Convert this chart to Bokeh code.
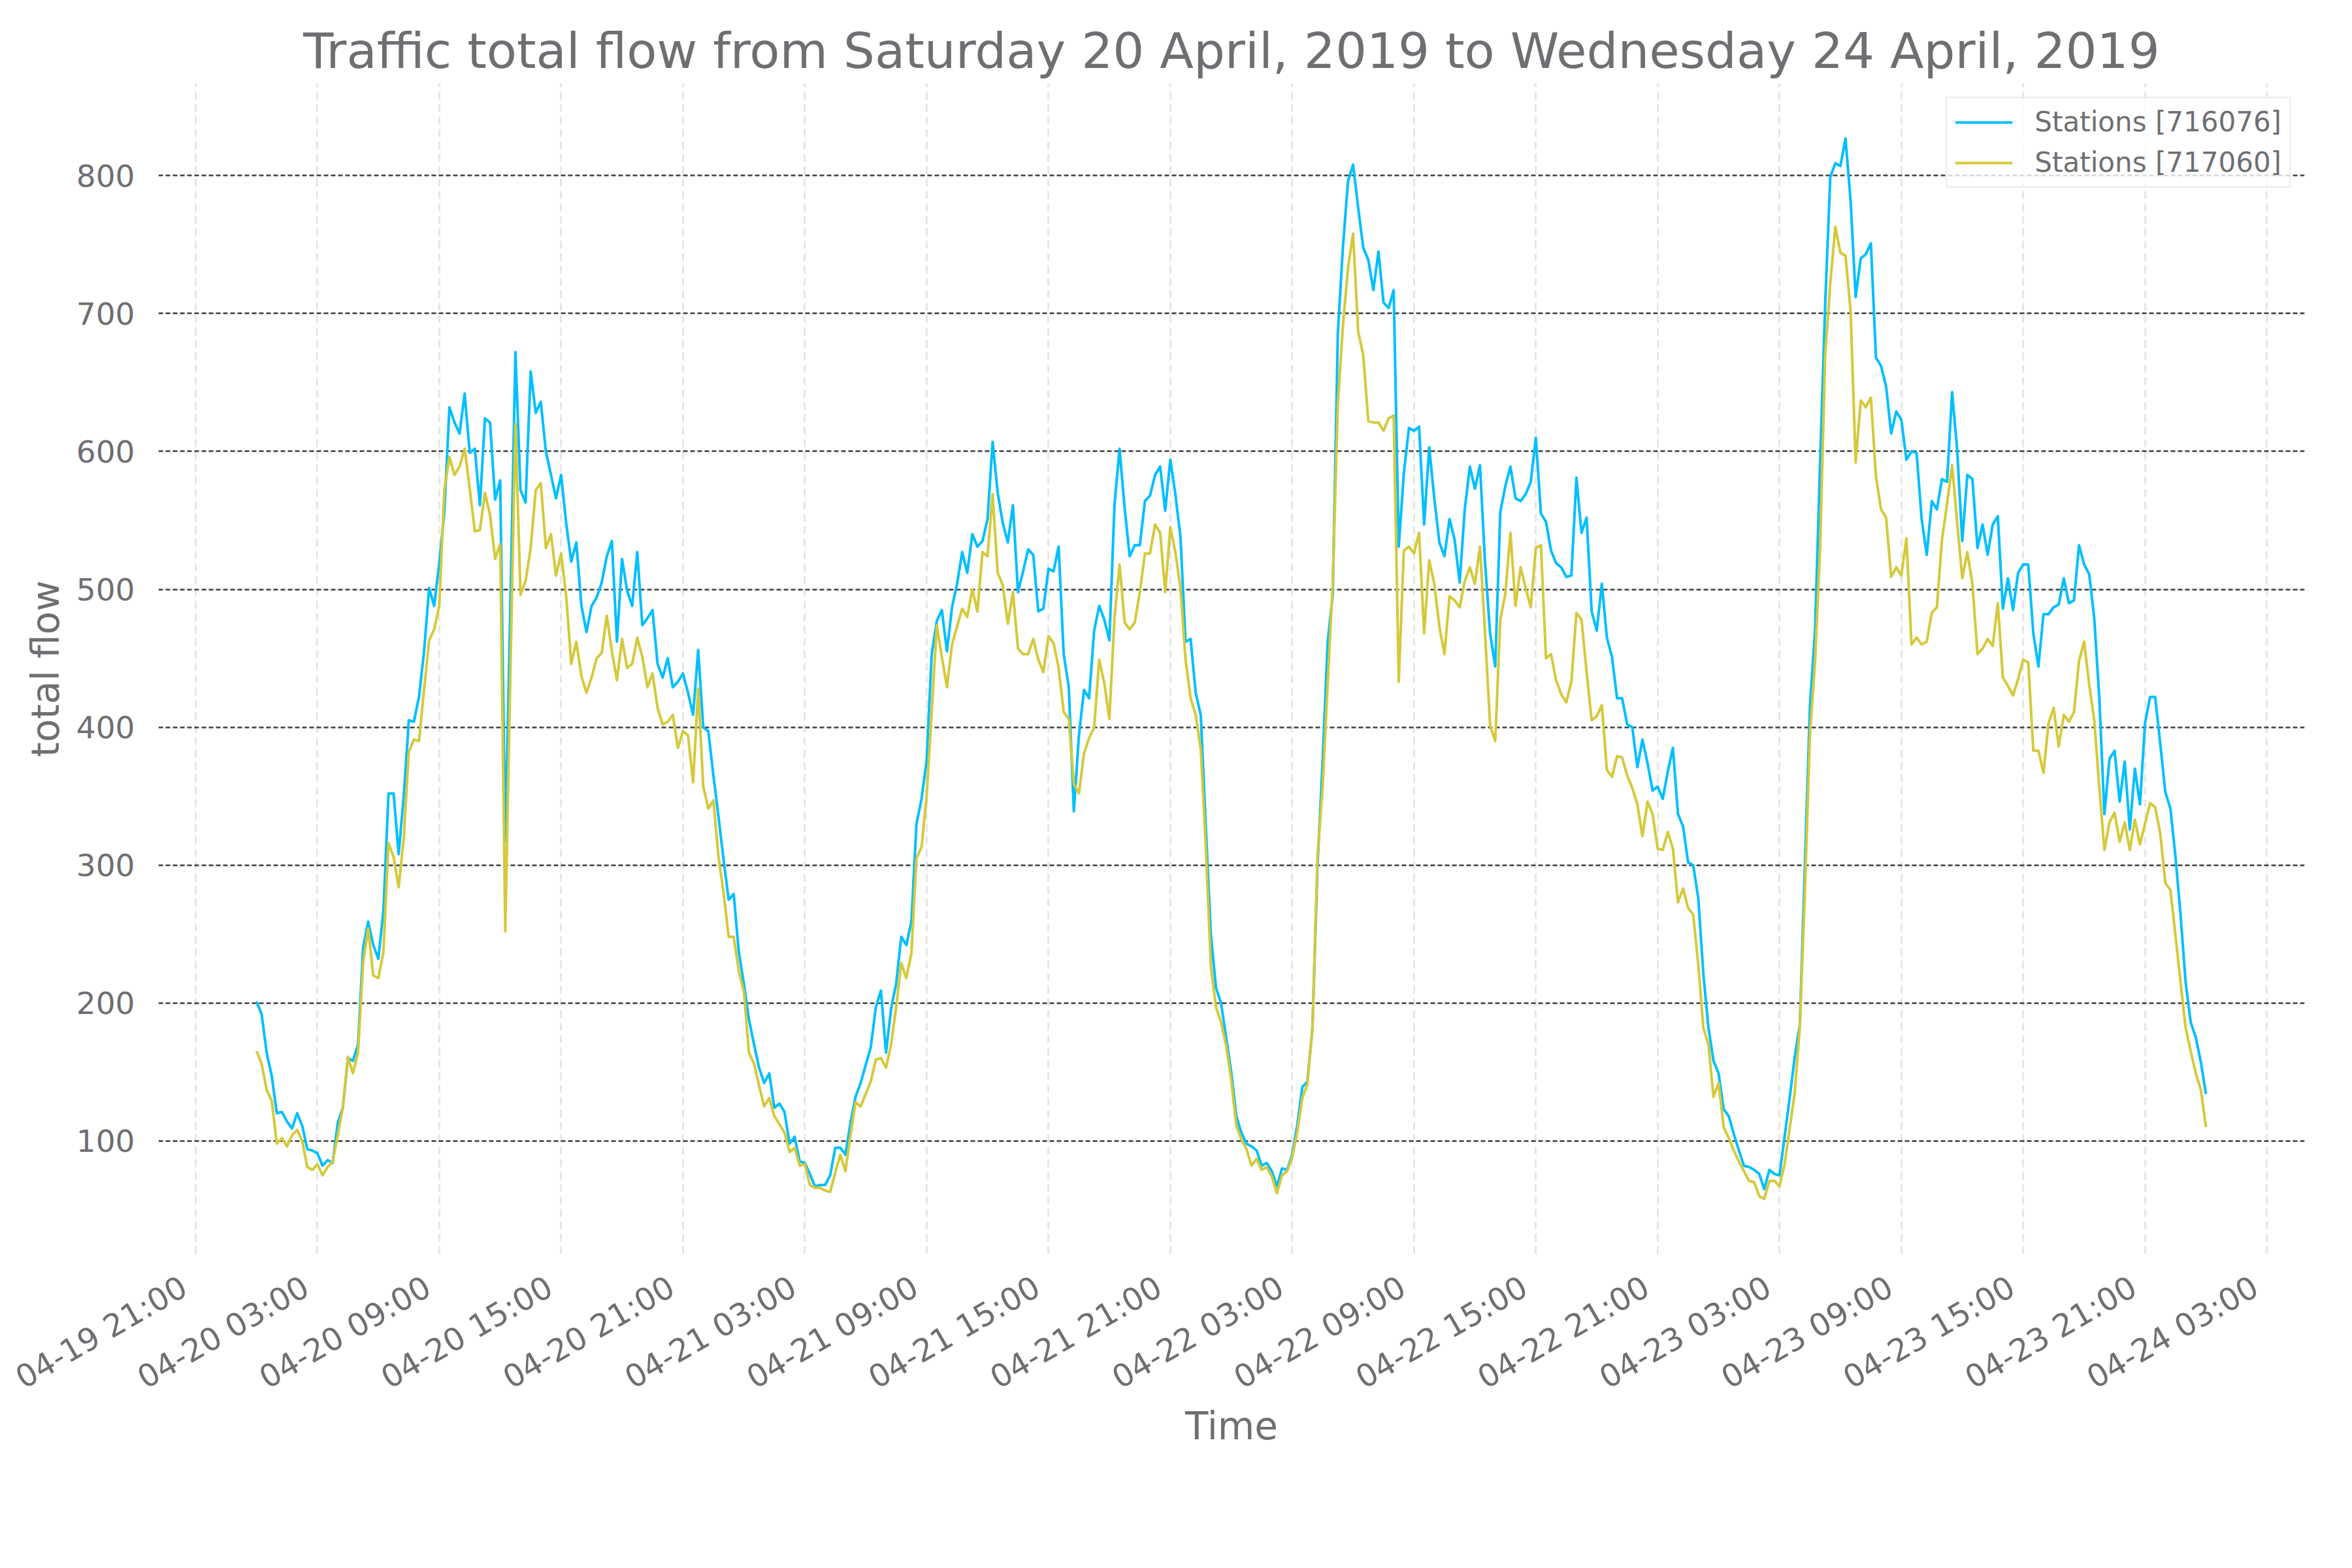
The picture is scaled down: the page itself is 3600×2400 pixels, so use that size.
import pandas as pd
from bokeh.plotting import figure
from bokeh.models import Range1d, FixedTicker, DatetimeTickFormatter
from bokeh.embed import file_html
from bokeh.resources import INLINE

# ---------------- data (15-minute samples, 2019-04-20 00:00 .. 2019-04-24 00:00) ----------------
start_time = "2019-04-20 00:00"
sample_freq = "15min"

flow_716076 = [
    201, 192, 164, 147, 120, 121, 114, 109, 120, 111,
    94, 93, 91, 82, 86, 84, 113, 124, 160, 158,
    170, 240, 259, 242, 232, 267, 352, 352, 308, 350,
    405, 404, 422, 455, 501, 488, 519, 556, 632, 621,
    613, 642, 599, 602, 561, 624, 621, 565, 579, 317,
    487, 672, 572, 563, 658, 628, 636, 600, 583, 566,
    583, 548, 520, 534, 488, 469, 488, 494, 505, 524,
    535, 462, 522, 499, 488, 527, 474, 479, 485, 446,
    436, 450, 429, 433, 439, 425, 409, 456, 400, 397,
    365, 335, 304, 275, 279, 237, 214, 188, 170, 153,
    142, 149, 124, 127, 121, 98, 103, 85, 84, 76,
    67, 68, 68, 75, 95, 95, 90, 113, 132, 142,
    155, 168, 197, 209, 164, 196, 214, 248, 242, 259,
    330, 348, 376, 453, 477, 485, 455, 487, 504, 527,
    512, 540, 531, 535, 551, 607, 570, 548, 534, 561,
    498, 513, 529, 525, 484, 486, 515, 513, 531, 453,
    429, 339, 394, 427, 421, 470, 488, 478, 463, 561,
    602, 559, 524, 532, 532, 564, 568, 583, 589, 557,
    594, 569, 538, 462, 464, 425, 409, 327, 249, 211,
    200, 175, 150, 118, 106, 98, 96, 93, 82, 84,
    78, 67, 80, 79, 90, 111, 139, 143, 182, 300,
    375, 462, 496, 686, 748, 796, 808, 777, 748, 739,
    717, 745, 708, 704, 717, 531, 584, 617, 615, 618,
    547, 603, 566, 534, 524, 551, 536, 505, 558, 589,
    573, 590, 519, 468, 444, 556, 575, 589, 566, 564,
    569, 578, 610, 555, 549, 528, 519, 516, 509, 510,
    581, 541, 552, 484, 470, 504, 465, 451, 421, 421,
    402, 400, 371, 391, 374, 354, 357, 348, 368, 385,
    337, 328, 302, 300, 276, 221, 182, 158, 149, 123,
    118, 105, 93, 82, 81, 79, 76, 65, 79, 76,
    75, 103, 131, 161, 184, 300, 416, 470, 592, 707,
    799, 809, 807, 827, 782, 712, 740, 743, 751, 668,
    662, 647, 613, 629, 623, 594, 600, 599, 551, 525,
    564, 558, 580, 578, 643, 601, 535, 583, 580, 530,
    547, 525, 547, 553, 486, 508, 485, 512, 518, 518,
    468, 444, 482, 482, 487, 489, 508, 490, 492, 532,
    518, 511, 479, 421, 337, 377, 383, 346, 375, 326,
    370, 344, 403, 422, 422, 388, 353, 341, 306, 264,
    215, 186, 175, 157, 134,
]

flow_717060 = [
    165, 156, 137, 129, 98, 102, 96, 104, 108, 100,
    81, 79, 83, 75, 81, 85, 104, 124, 161, 149,
    164, 229, 254, 220, 218, 237, 316, 306, 284, 319,
    382, 391, 390, 427, 463, 471, 488, 572, 596, 583,
    589, 602, 573, 542, 543, 570, 554, 522, 533, 252,
    438, 620, 496, 506, 530, 572, 577, 530, 540, 510,
    526, 495, 446, 462, 437, 425, 436, 450, 454, 481,
    455, 434, 464, 443, 446, 465, 451, 429, 439, 414,
    402, 404, 409, 385, 397, 394, 360, 428, 357, 341,
    347, 306, 280, 248, 248, 223, 208, 164, 156, 140,
    125, 131, 118, 112, 106, 92, 95, 82, 83, 68,
    66, 66, 64, 63, 77, 90, 78, 104, 128, 125,
    134, 143, 159, 160, 153, 170, 197, 229, 218, 236,
    305, 313, 350, 411, 474, 451, 429, 460, 473, 486,
    480, 500, 484, 527, 524, 569, 512, 503, 475, 498,
    457, 453, 453, 464, 449, 440, 466, 461, 443, 411,
    406, 359, 352, 381, 392, 400, 449, 432, 406, 479,
    518, 476, 471, 476, 498, 526, 526, 547, 541, 498,
    545, 527, 501, 449, 421, 409, 384, 312, 226, 197,
    186, 169, 144, 111, 101, 94, 82, 87, 79, 81,
    74, 62, 75, 78, 88, 106, 131, 141, 182, 307,
    356, 431, 505, 634, 691, 733, 758, 687, 670, 622,
    621, 621, 615, 624, 626, 433, 528, 531, 526, 541,
    468, 521, 504, 473, 453, 495, 492, 487, 506, 516,
    504, 531, 468, 401, 390, 478, 497, 541, 488, 516,
    501, 487, 530, 532, 450, 453, 434, 424, 418, 433,
    483, 478, 440, 405, 408, 416, 369, 364, 379, 378,
    365, 356, 344, 321, 346, 337, 312, 311, 324, 312,
    273, 283, 269, 264, 228, 182, 170, 132, 142, 110,
    102, 93, 85, 78, 71, 70, 60, 58, 71, 71,
    67, 83, 109, 135, 182, 280, 395, 447, 530, 670,
    722, 763, 744, 742, 702, 592, 637, 632, 639, 582,
    558, 552, 509, 516, 510, 537, 460, 465, 460, 462,
    483, 487, 536, 562, 590, 548, 508, 527, 504, 453,
    457, 464, 459, 490, 436, 430, 423, 435, 449, 447,
    383, 383, 367, 403, 414, 386, 409, 404, 411, 448,
    462, 431, 405, 356, 311, 331, 338, 317, 331, 311,
    333, 315, 330, 345, 342, 323, 287, 282, 249, 215,
    182, 165, 149, 137, 110,
]

series_labels = ["Stations [716076]", "Stations [717060]"]
series_colors = ["#00BFFF", "#D5C93B"]

title_text = "Traffic total flow from Saturday 20 April, 2019 to Wednesday 24 April, 2019"
x_label = "Time"
y_label = "total flow"

x_tick_times = pd.date_range("2019-04-19 21:00", "2019-04-24 03:00", freq="6h")
x_tick_labels = [t.strftime("%m-%d %H:%M") for t in x_tick_times]
y_ticks = [100, 200, 300, 400, 500, 600, 700, 800]

# ---------------- figure ----------------
TEXT_COLOR = "#6E6E73"
FONT = "DejaVu Sans"

t0 = pd.Timestamp(start_time)
times_a = pd.date_range(t0, periods=len(flow_716076), freq=sample_freq)
times_b = pd.date_range(t0, periods=len(flow_717060), freq=sample_freq)

p = figure(
    width=3600, height=2400,
    x_axis_type="datetime",
    output_backend="svg",
    toolbar_location=None,
    x_range=Range1d(t0 - pd.Timedelta(hours=4.83), t0 + pd.Timedelta(hours=100.86)),
    y_range=Range1d(17.9, 867.0),
    min_border_left=242, min_border_right=73,
    min_border_top=127, min_border_bottom=481,
)
p.outline_line_color = None
p.background_fill_color = "white"
p.border_fill_color = "white"

p.title.text = title_text
p.title.align = "center"
p.title.text_font = FONT
p.title.text_font_size = "75.5px"
p.title.text_font_style = "normal"
p.title.text_color = TEXT_COLOR
p.title.standoff = 12

for ax in (p.xaxis[0], p.yaxis[0]):
    ax.axis_line_color = None
    ax.major_tick_line_color = None
    ax.minor_tick_line_color = None
    ax.major_label_text_font = FONT
    ax.major_label_text_color = TEXT_COLOR
    ax.axis_label_text_font = FONT
    ax.axis_label_text_font_size = "58px"
    ax.axis_label_text_font_style = "normal"
    ax.axis_label_text_color = TEXT_COLOR

p.xaxis.major_label_text_font_size = "48px"
p.yaxis.major_label_text_font_size = "47px"

p.xaxis.axis_label = x_label
p.yaxis.axis_label = y_label

# grid lines sit on the true tick times; the rotated tick labels are anchored
# slightly to the left (matplotlib-style right-aligned bounding box)
grid_ticks = [int(t.value // 10**6) for t in x_tick_times]
label_shift = pd.Timedelta(minutes=34)
label_ticks = [int((t - label_shift).value // 10**6) for t in x_tick_times]

p.xgrid.ticker = FixedTicker(ticks=grid_ticks)
p.xaxis.ticker = FixedTicker(ticks=label_ticks)
p.xaxis.formatter = DatetimeTickFormatter(
    hours="%m-%d %H:%M", hourmin="%m-%d %H:%M", days="%m-%d %H:%M",
    minutes="%m-%d %H:%M", minsec="%m-%d %H:%M",
)
p.xaxis.major_label_overrides = {k: lab for k, lab in zip(label_ticks, x_tick_labels)}
p.xaxis.major_label_orientation = 0.5236
p.xaxis.major_label_standoff = 40
p.xaxis.axis_label_standoff = -15

p.yaxis.ticker = FixedTicker(ticks=y_ticks)
p.yaxis.major_label_standoff = 30
p.yaxis.axis_label_standoff = 10

p.xgrid.grid_line_color = "#E6E6E6"
p.xgrid.grid_line_width = 3
p.xgrid.grid_line_dash = "12 7"
p.ygrid.grid_line_color = "#3C3C3C"
p.ygrid.grid_line_width = 2.5
p.ygrid.grid_line_dash = "7 4"

p.line(times_a, flow_716076, line_color=series_colors[0], line_width=4,
       line_join="round", legend_label=series_labels[0])
p.line(times_b, flow_717060, line_color=series_colors[1], line_width=4,
       line_join="round", legend_label=series_labels[1])

lg = p.legend[0]
lg.location = "top_right"
lg.margin = 21
lg.padding = 12
lg.spacing = 13
lg.glyph_width = 88
lg.glyph_height = 48
lg.label_height = 48
lg.label_standoff = 34
lg.label_text_font = FONT
lg.label_text_font_size = "42px"
lg.label_text_color = TEXT_COLOR
lg.border_line_color = "#D9D9D9"
lg.border_line_width = 2.5
lg.background_fill_color = "white"
lg.background_fill_alpha = 0.8

open("out.html", "w").write(file_html(p, INLINE))
